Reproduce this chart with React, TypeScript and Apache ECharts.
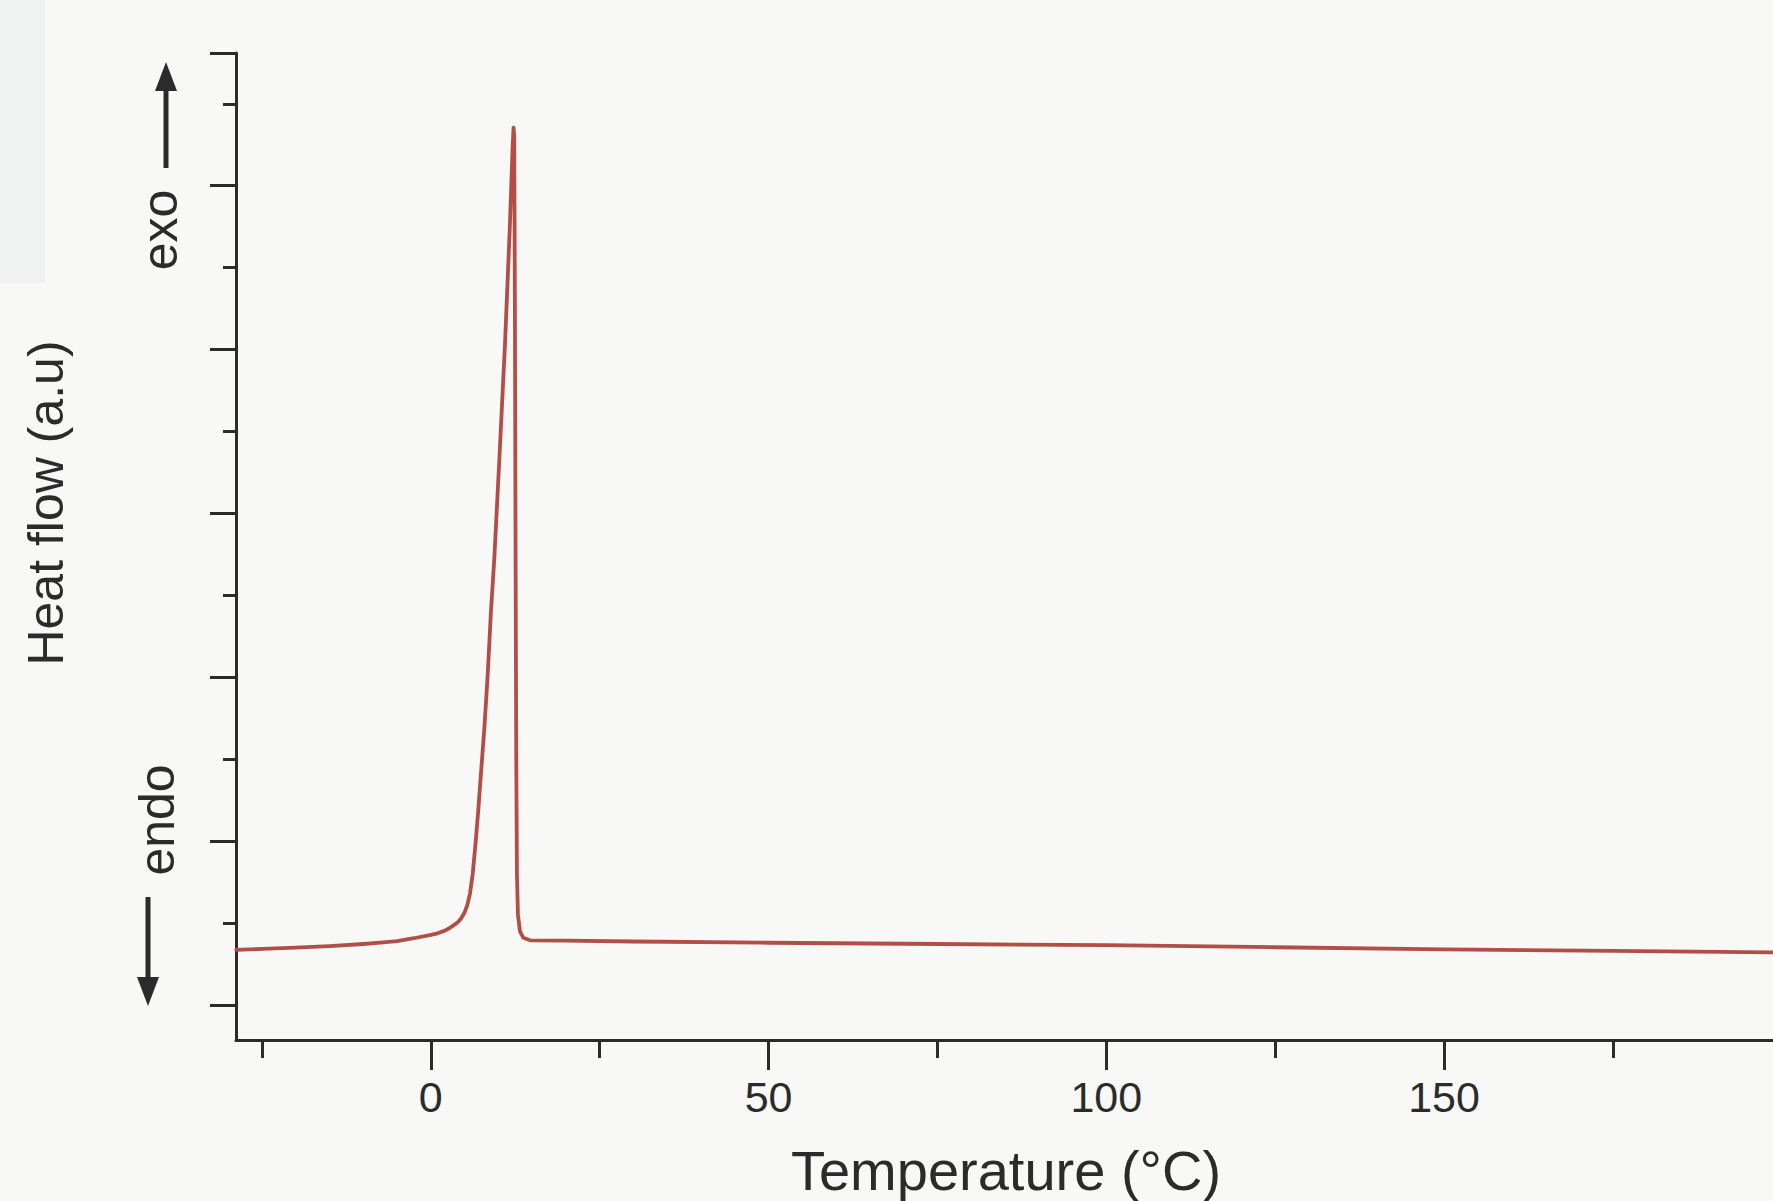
import React, { useEffect, useRef } from "react";
import * as echarts from "echarts";

// ---- data ----
const temperature = [-28.8, -25, -20, -15, -10, -7.5, -5, -2.5, 0, 1, 2, 2.8, 3.4, 4.0, 4.5, 5.0, 5.4, 5.8, 6.2, 6.6, 7.0, 7.4, 7.9, 8.4, 8.9, 9.4, 10.2, 11.0, 11.7, 12.1, 12.25, 12.35, 12.45, 12.55, 12.65, 12.75, 12.9, 13.2, 13.7, 14.7, 20, 30, 50, 75, 100, 125, 150, 175, 198.7];
const heatFlow = [0.672, 0.685, 0.7, 0.72, 0.745, 0.761, 0.78, 0.815, 0.855, 0.875, 0.905, 0.94, 0.975, 1.01, 1.06, 1.13, 1.22, 1.36, 1.6, 1.95, 2.35, 2.8, 3.35, 4.0, 4.8, 5.45, 6.75, 8.1, 9.5, 10.45, 10.71, 10.6, 8.5, 5.5, 3.0, 1.6, 1.1, 0.9, 0.82, 0.79, 0.785, 0.775, 0.76, 0.745, 0.73, 0.705, 0.68, 0.66, 0.643];

const xMajorTicks = [0, 50, 100, 150];
const xMinorTicks = [-25, 25, 75, 125, 175];
const X_MIN = -28.84;
const X_MAX = 198.7;

const Y_MIN = -0.427;
const Y_MAX = 11.62;
const yMajorTicks = [0, 2, 4, 6, 8, 10, Y_MAX];
const yMinorTicks = [1, 3, 5, 7, 9, 11];

const xTitle = "Temperature (°C)";
const yTitle = "Heat flow (a.u)";
const exoLabel = "exo";
const endoLabel = "endo";

const FONT = "'Liberation Sans', Arial, Helvetica, sans-serif";
const INK = "#2b2b2b";
const CURVE = "#b24e48";

export default function App() {
  const ref = useRef<HTMLDivElement>(null);

  useEffect(() => {
    if (!ref.current) return;
    const chart = echarts.init(ref.current, undefined, { renderer: "svg" });
    const points = temperature.map((t, i) => [t, heatFlow[i]]);

    const axisLineStyle = { color: INK, width: 3 };

    chart.setOption({
      animation: false,
      backgroundColor: "#f8f8f6",
      grid: { left: 236, right: 0, top: 53, bottom: 161, containLabel: false },
      xAxis: [
        {
          type: "value",
          min: X_MIN,
          max: X_MAX,
          position: "bottom",
          axisLine: { show: true, onZero: false, lineStyle: axisLineStyle },
          axisTick: { show: true, customValues: xMajorTicks, length: 30, lineStyle: axisLineStyle },
          axisLabel: {
            show: true,
            customValues: xMajorTicks,
            fontSize: 43,
            margin: 35,
            color: INK,
            fontFamily: FONT,
          },
          splitLine: { show: false },
        },
        {
          type: "value",
          min: X_MIN,
          max: X_MAX,
          position: "bottom",
          axisLine: { show: false, onZero: false },
          axisTick: { show: true, customValues: xMinorTicks, length: 18, lineStyle: axisLineStyle },
          axisLabel: { show: false },
          splitLine: { show: false },
        },
      ],
      yAxis: [
        {
          type: "value",
          min: Y_MIN,
          max: Y_MAX,
          position: "left",
          axisLine: { show: true, onZero: false, lineStyle: axisLineStyle },
          axisTick: { show: true, customValues: yMajorTicks, length: 26, lineStyle: axisLineStyle },
          axisLabel: { show: false },
          splitLine: { show: false },
        },
        {
          type: "value",
          min: Y_MIN,
          max: Y_MAX,
          position: "left",
          axisLine: { show: false, onZero: false },
          axisTick: { show: true, customValues: yMinorTicks, length: 13, lineStyle: axisLineStyle },
          axisLabel: { show: false },
          splitLine: { show: false },
        },
      ],
      series: [
        {
          type: "line",
          name: "DSC",
          xAxisIndex: 0,
          yAxisIndex: 0,
          data: points,
          showSymbol: false,
          symbol: "none",
          smooth: false,
          lineStyle: { color: CURVE, width: 3.8, join: "round", cap: "round" },
        },
      ],
      graphic: [
        {
          type: "rect",
          z: -10,
          silent: true,
          shape: { x: 0, y: 0, width: 45, height: 283 },
          style: { fill: "#f0f1f1" },
        },
        {
          type: "text",
          x: 46,
          y: 503,
          rotation: Math.PI / 2,
          style: {
            text: yTitle,
            fontSize: 50,
            fontFamily: FONT,
            fill: INK,
            align: "center",
            verticalAlign: "middle",
          },
        },
        {
          type: "text",
          x: 1006,
          y: 1170,
          style: {
            text: xTitle,
            fontSize: 56,
            fontFamily: FONT,
            fill: INK,
            align: "center",
            verticalAlign: "middle",
          },
        },
        {
          type: "text",
          x: 160,
          y: 230,
          rotation: Math.PI / 2,
          style: {
            text: exoLabel,
            fontSize: 50,
            fontFamily: FONT,
            fill: INK,
            align: "center",
            verticalAlign: "middle",
          },
        },
        {
          type: "text",
          x: 157,
          y: 820,
          rotation: Math.PI / 2,
          style: {
            text: endoLabel,
            fontSize: 50,
            fontFamily: FONT,
            fill: INK,
            align: "center",
            verticalAlign: "middle",
          },
        },
        // exo arrow (pointing up)
        {
          type: "line",
          shape: { x1: 166, y1: 168, x2: 166, y2: 86 },
          style: { stroke: INK, lineWidth: 5 },
        },
        {
          type: "polygon",
          shape: { points: [[166, 62], [155, 91], [177, 91]] },
          style: { fill: INK },
        },
        // endo arrow (pointing down)
        {
          type: "line",
          shape: { x1: 148, y1: 897, x2: 148, y2: 980 },
          style: { stroke: INK, lineWidth: 5 },
        },
        {
          type: "polygon",
          shape: { points: [[148, 1006], [137, 977], [159, 977]] },
          style: { fill: INK },
        },
      ],
    });

    return () => chart.dispose();
  }, []);

  return (
    <div
      ref={ref}
      style={{ position: "absolute", left: 0, top: 0, width: 1773, height: 1201 }}
    />
  );
}
